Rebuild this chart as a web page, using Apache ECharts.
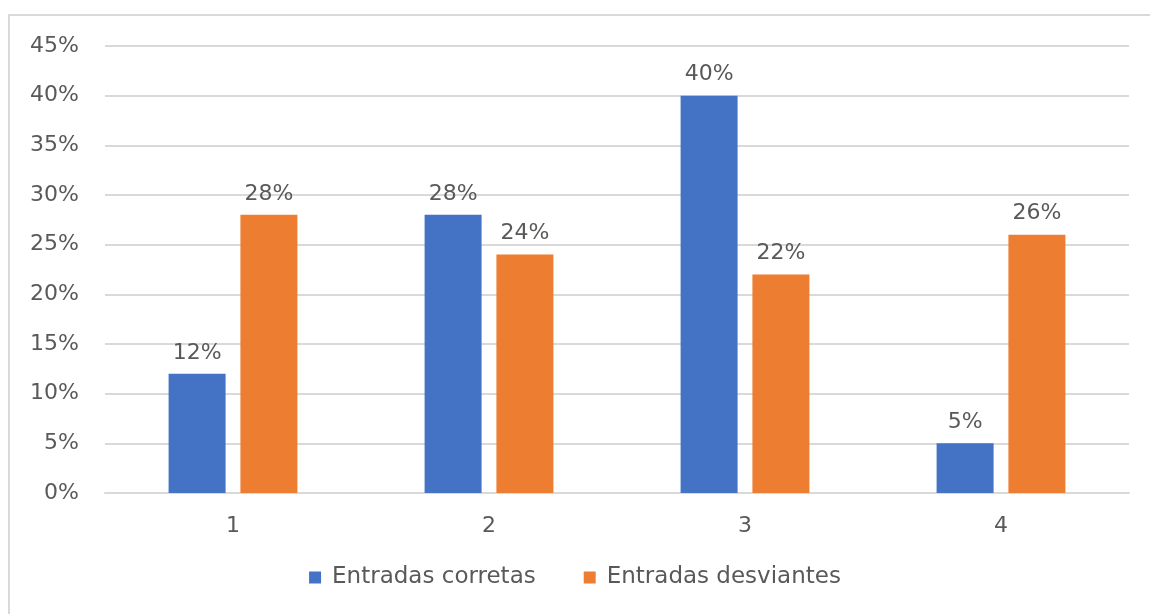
<!DOCTYPE html>
<html>
<head>
<meta charset="utf-8">
<script src="https://cdn.jsdelivr.net/npm/echarts@6/dist/echarts.min.js"></script>
<style>
  html, body { margin: 0; padding: 0; background: #ffffff; overflow: hidden; }
  #wrap { position: relative; width: 1150px; height: 614px; overflow: hidden; }
  /* chart frame: only the left and top edges fall inside the page */
  #frame { position: absolute; left: 8px; top: 14px; right: 0; bottom: 0;
           border-left: 2px solid #d9d9d9; border-top: 2px solid #d9d9d9; }
  #chart { position: absolute; left: 0; top: 0; width: 1150px; height: 614px; }
</style>
</head>
<body>
<div id="wrap">
  <div id="frame"></div>
  <div id="chart"></div>
</div>
<script>
// Categories and values (percent)
const categories = ['1', '2', '3', '4'];
const seriesNames = ['Entradas corretas', 'Entradas desviantes'];
const corretas = [12, 28, 40, 5];
const desviantes = [28, 24, 22, 26];

const textColor = '#595959';
const gridColor = '#d9d9d9';
const fontFamily = '"DejaVu Sans", "Liberation Sans", Arial, sans-serif';
const fontSize = 22;

const chart = echarts.init(document.getElementById('chart'), null, { renderer: 'canvas' });

const labelStyle = {
  show: true,
  position: 'top',
  distance: 10,
  formatter: '{c}%',
  color: textColor,
  fontSize: fontSize,
  fontFamily: fontFamily
};

chart.setOption({
  animation: false,
  grid: { left: 105, right: 21, top: 46, bottom: 121 },
  legend: {
    data: seriesNames,
    bottom: 20,
    left: 'center',
    itemWidth: 12,
    itemHeight: 12,
    itemGap: 48,
    icon: 'rect',
    textStyle: { color: textColor, fontSize: 23, fontFamily: fontFamily, padding: [0, 0, 0, 6] }
  },
  xAxis: {
    type: 'category',
    data: categories,
    axisLine: { show: true, lineStyle: { color: gridColor, width: 2 } },
    axisTick: { show: false },
    axisLabel: { color: textColor, fontSize: fontSize, fontFamily: fontFamily, margin: 22 }
  },
  yAxis: {
    type: 'value',
    min: 0,
    max: 45,
    interval: 5,
    axisLine: { show: false },
    axisTick: { show: false },
    axisLabel: { formatter: '{value}%', color: textColor, fontSize: fontSize, fontFamily: fontFamily, margin: 26 },
    splitLine: { lineStyle: { color: gridColor, width: 2 } }
  },
  series: [
    {
      name: seriesNames[0],
      type: 'bar',
      data: corretas,
      barWidth: 57,
      barGap: '26%',
      itemStyle: { color: '#4472C4' },
      label: labelStyle
    },
    {
      name: seriesNames[1],
      type: 'bar',
      data: desviantes,
      barWidth: 57,
      barGap: '26%',
      itemStyle: { color: '#ED7D31' },
      label: labelStyle
    }
  ]
});
</script>
</body>
</html>
